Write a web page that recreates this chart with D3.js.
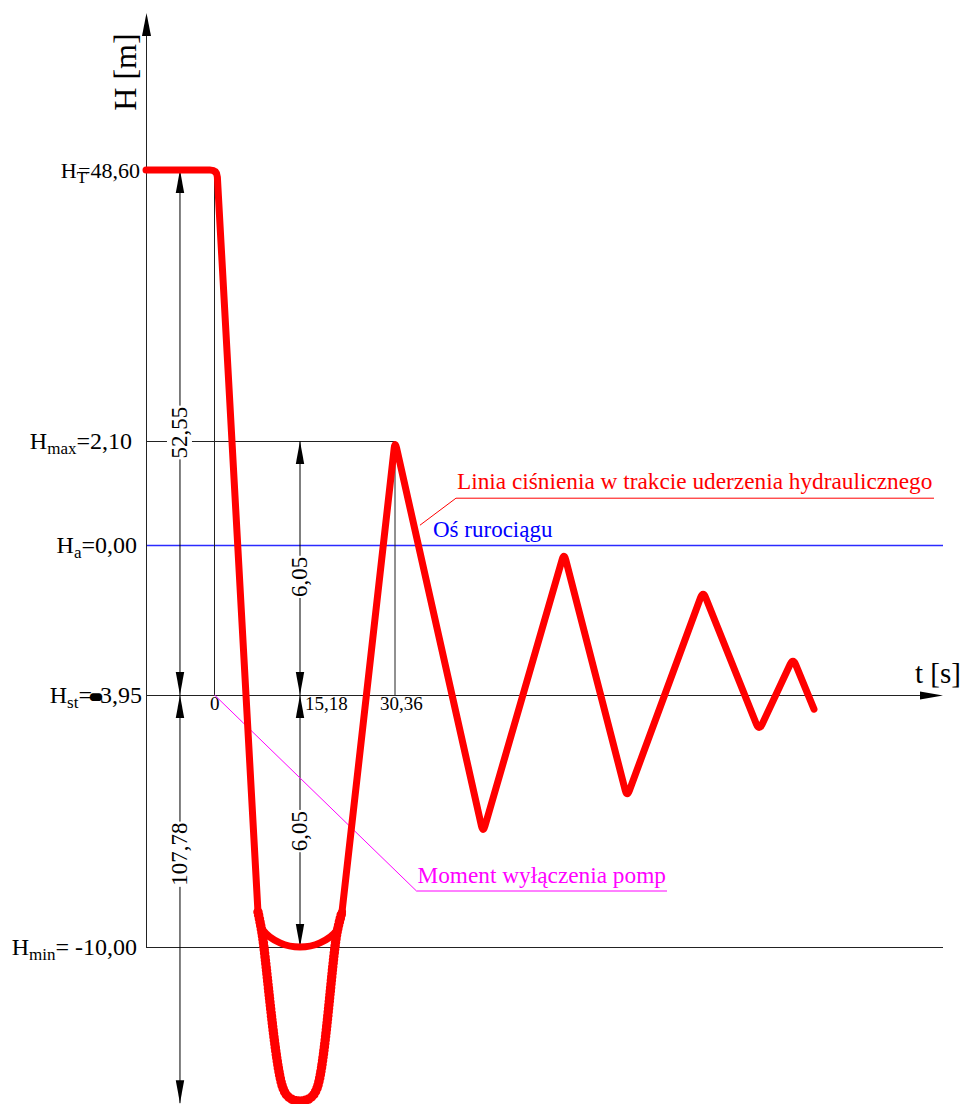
<!DOCTYPE html>
<meta charset="utf-8">
<script src="https://d3js.org/d3.v7.min.js"></script>
<style>
  body { margin: 0; background: #fff; }
  svg text { font-family: "Liberation Serif", "Times New Roman", Times, serif; }
</style>

<div id="chart"></div>

<script>
    // characteristic pressure levels H [m]
    var levelSub = ['T', 'max', 'a', 'st', 'min'];
    var levelValue = [48.60, 2.10, 0.00, -3.95, -10.00];
    var levelText = ['48,60', '2,10', '0,00', '-3,95', ' -10,00'];

    // time ticks t [s]
    var tickTime = [0, 15.18, 30.36];
    var tickText = ['0', '15,18', '30,36'];

    // pressure line during water hammer (t, H)
    var dropT = [-12.16, 0.44, 7.72];
    var dropH = [48.60, 48.60, -9.16];
    var bowlT = [7.72, 8.61, 11.63, 15.18, 18.38, 21.09, 21.89];
    var bowlH = [-9.16, -9.59, -9.90, -10.00, -9.90, -9.59, -9.16];
    var waveT = [21.89, 30.36, 44.42, 57.37, 67.43, 79.58, 88.53, 93.96, 97.31];
    var waveH = [-9.16, 2.10, -7.26, -0.21, -6.40, -1.21, -4.81, -2.98, -4.29];
    var deepT = [7.72, 8.43, 12.16, 13.41, 15.18, 16.78, 17.90, 21.09, 21.89];
    var deepH = [-9.16, -9.66, -13.39, -13.63, -13.70, -13.63, -13.39, -9.66, -9.16];

    // dimension lines
    var dimT = [-6.13, -6.13, 15.18, 15.18];
    var dimFrom = [48.60, -3.95, 2.10, -3.95];
    var dimTo = [-3.95, -13.75, -3.95, -10.00];
    var dimText = ['52,55', '107,78', '6,05', '6,05'];

    var width = 967,
        height = 1104,
        axisLeft = 146,
        axisRight = 943,
        axisTop = 13,
        ink = '#222';

    var svg = d3.select('#chart').append('svg')
        .attr('width', width)
        .attr('height', height)
        .attr('font-family', '"Liberation Serif", "Times New Roman", Times, serif');

    // drawing is not to scale, so both scales are piecewise
    var x = d3.scaleLinear().domain(tickTime).range([214.5, 300, 395]);
    var y = d3.scaleLinear().domain(levelValue).range([170, 441, 545, 695, 947]);

    function arrow(tx, ty, dir, len, half) {
        // dir = where the tip points
        var p;
        if (dir == 'up') p = [[tx, ty], [tx - half, ty + len], [tx + half, ty + len]];
        if (dir == 'down') p = [[tx, ty], [tx - half, ty - len], [tx + half, ty - len]];
        if (dir == 'right') p = [[tx, ty], [tx - len, ty - half], [tx - len, ty + half]];
        svg.append('path')
            .attr('d', 'M' + p.join('L') + 'Z')
            .attr('fill', '#000');
    }

    function hline(x1, x2, yy, col, w) {
        svg.append('line')
            .attr('x1', x1).attr('x2', x2)
            .attr('y1', yy + 0.5).attr('y2', yy + 0.5)
            .attr('stroke', col || ink).attr('stroke-width', w || 1);
    }

    function vline(xx, y1, y2, col) {
        svg.append('line')
            .attr('x1', xx + 0.5).attr('x2', xx + 0.5)
            .attr('y1', y1).attr('y2', y2)
            .attr('stroke', col || ink).attr('stroke-width', 1);
    }

    // reference lines
    hline(axisLeft, x(30.36), y(2.10));
    hline(axisLeft, axisRight, y(0), '#2b2bff', 1.4);
    hline(axisLeft, axisRight, y(-10.00));
    vline(x(0) - 0.5, y(48.60), y(-3.95));
    vline(x(30.36) - 0.5, y(2.10), y(-3.95));

    // axes
    vline(axisLeft, axisTop + 10, y(-10.00));
    arrow(axisLeft + 0.5, axisTop, 'up', 23, 4.5);
    hline(axisLeft, axisRight - 10, y(-3.95));
    arrow(axisRight, y(-3.95) + 0.5, 'right', 23, 4);

    svg.append('text')
        .attr('transform', 'translate(136,72) rotate(-90)')
        .attr('text-anchor', 'middle')
        .attr('font-size', 32)
        .text('H [m]');

    svg.append('text')
        .attr('x', 915).attr('y', 683)
        .attr('font-size', 29)
        .text('t [s]');

    // level labels
    var labelEnd = [140, 132, 137, 142, 137];
    levelSub.forEach(function(s, i) {
        var size = i == 0 ? 22 : 24;
        var t = svg.append('text')
            .attr('x', labelEnd[i])
            .attr('y', y(levelValue[i]) + 8)
            .attr('text-anchor', 'end')
            .attr('font-size', size);
        t.append('tspan').text('H');
        t.append('tspan').attr('font-size', 17).attr('dy', 5).text(s);
        var eq = t.append('tspan').attr('dy', -5).text('=');
        if (s == 'T') eq.attr('dx', -9);
        if (s == 'st') {
            t.append('tspan')
                .attr('stroke', '#000').attr('stroke-width', 6)
                .attr('stroke-linejoin', 'round')
                .text('-');
            t.append('tspan').text(levelText[i].slice(1));
        } else {
            t.append('tspan').text(levelText[i]);
        }
    });

    // time tick labels
    var tickDx = [-4.5, 5, -15];
    tickTime.forEach(function(v, i) {
        svg.append('text')
            .attr('x', x(v) + tickDx[i])
            .attr('y', y(-3.95) + 15)
            .attr('font-size', 19)
            .text(tickText[i]);
    });

    // dimension lines with arrows and rotated values
    var dimAt = [0.5, 0.39, 0.535, 0.54];
    dimT.forEach(function(t, i) {
        var xx = x(t),
            y1 = y(dimFrom[i]),
            y2 = y(dimTo[i]);
        vline(xx - 0.5, y1, y2, '#000');
        arrow(xx, y1, 'up', 23, 4.2);
        arrow(xx, y2, 'down', 23, 4.2);
        var ly = y1 + dimAt[i] * (y2 - y1);
        var tr = 'translate(' + (xx + 7) + ',' + ly + ') rotate(-90)';
        var bg = svg.append('rect').attr('fill', '#fff').attr('transform', tr);
        var txt = svg.append('text')
            .attr('transform', tr)
            .attr('text-anchor', 'middle')
            .attr('font-size', 23)
            .text(dimText[i]);
        var b = txt.node().getBBox();
        bg.attr('x', b.x - 1).attr('y', b.y).attr('width', b.width + 2).attr('height', b.height);
    });

    // annotations
    var redAnchor = [x(34.35), y(0.40)];
    svg.append('path')
        .attr('d', 'M' + redAnchor + 'L' + [redAnchor[0] + 36, redAnchor[1] - 27] + 'H934')
        .attr('fill', 'none').attr('stroke', '#ff0000').attr('stroke-width', 1);
    svg.append('text')
        .attr('x', redAnchor[0] + 37).attr('y', redAnchor[1] - 36)
        .attr('font-size', 23.3).attr('fill', '#ff0000')
        .text('Linia ciśnienia w trakcie uderzenia hydraulicznego');

    svg.append('text')
        .attr('x', x(30.36) + 38).attr('y', y(0) - 8)
        .attr('font-size', 23).attr('fill', '#0000ff')
        .text('Oś rurociągu');

    var magAnchor = [x(0), y(-3.95)];
    svg.append('path')
        .attr('d', 'M' + magAnchor + 'L' + [magAnchor[0] + 202, magAnchor[1] + 196] + 'H667')
        .attr('fill', 'none').attr('stroke', '#ff00ff').attr('stroke-width', 1);
    svg.append('text')
        .attr('x', magAnchor[0] + 203).attr('y', magAnchor[1] + 188)
        .attr('font-size', 23.3).attr('fill', '#ff00ff')
        .text('Moment wyłączenia pomp');

    // pressure line
    function series(ts, hs) {
        return ts.map(function(t, i) { return [x(t), y(hs[i])]; });
    }

    // polyline with small rounded corners, like the CAD plot
    function rounded(pts, r) {
        var d = 'M' + pts[0];
        for (var i = 1; i < pts.length - 1; i++) {
            var p0 = pts[i - 1], p1 = pts[i], p2 = pts[i + 1];
            var a = Math.hypot(p0[0] - p1[0], p0[1] - p1[1]),
                b = Math.hypot(p2[0] - p1[0], p2[1] - p1[1]);
            var ra = Math.min(r, a / 2), rb = Math.min(r, b / 2);
            var s = [p1[0] + (p0[0] - p1[0]) * ra / a, p1[1] + (p0[1] - p1[1]) * ra / a];
            var e = [p1[0] + (p2[0] - p1[0]) * rb / b, p1[1] + (p2[1] - p1[1]) * rb / b];
            d += 'L' + s + 'Q' + p1 + ' ' + e;
        }
        return d + 'L' + pts[pts.length - 1];
    }

    var smooth = d3.line().curve(d3.curveCatmullRom);

    var red = svg.append('g')
        .attr('fill', 'none')
        .attr('stroke', '#ff0000')
        .attr('stroke-linejoin', 'round')
        .attr('stroke-linecap', 'round');

    red.append('path').attr('d', smooth(series(deepT, deepH))).attr('stroke-width', 8);
    red.append('path').attr('d', smooth(series(deepT, deepH)))
        .attr('stroke-width', 9.5).attr('stroke-dasharray', '0,3.5');
    red.append('path').attr('d', rounded(series(dropT, dropH), 7)).attr('stroke-width', 7);
    red.append('path').attr('d', smooth(series(bowlT, bowlH))).attr('stroke-width', 7);
    red.append('path').attr('d', rounded(series(waveT, waveH), 7)).attr('stroke-width', 7);
</script>
